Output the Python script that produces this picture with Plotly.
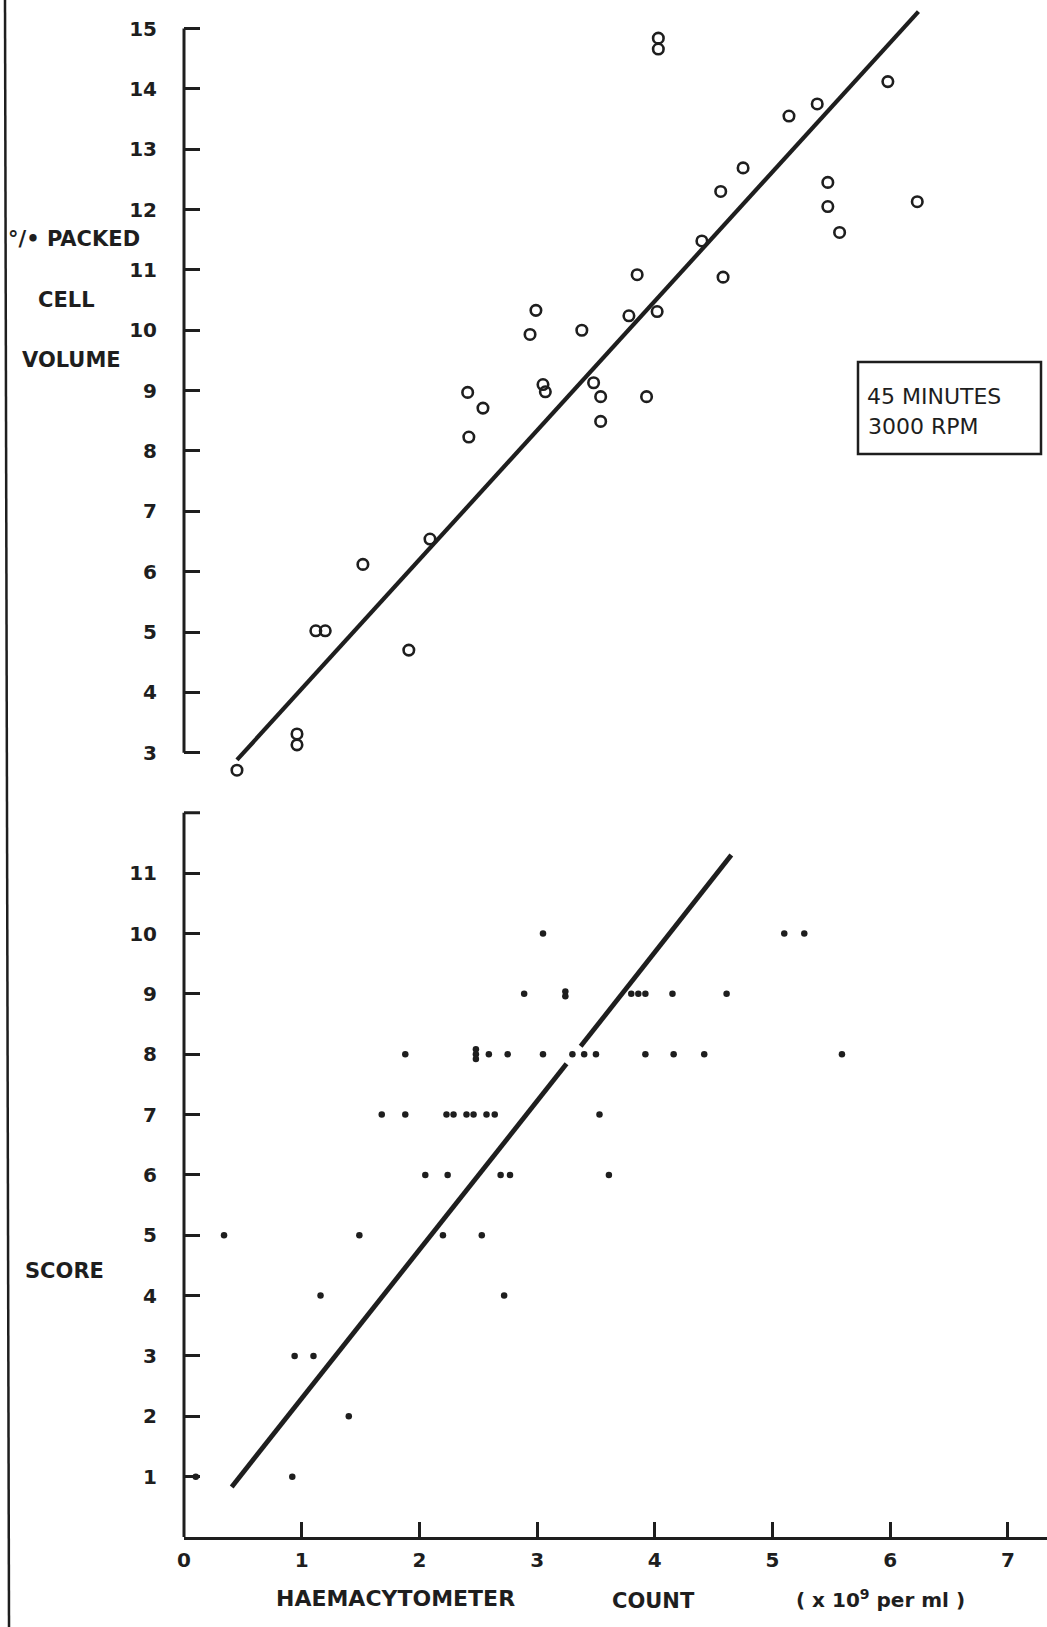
import plotly.graph_objects as go
from collections import Counter

# ---- Upper panel: % packed cell volume against haemacytometer count ----
pcv_count = [0.45, 0.96, 0.96, 1.12, 1.20, 1.52, 1.91, 2.09, 2.42, 2.41,
             2.54, 2.94, 2.99, 3.05, 3.07, 3.38, 3.48, 3.54, 3.54, 3.78,
             3.85, 3.93, 4.02, 4.03, 4.03, 4.40, 4.56, 4.58, 4.75, 5.14,
             5.38, 5.47, 5.47, 5.57, 5.98, 6.23]
pcv_value = [2.71, 3.13, 3.31, 5.02, 5.02, 6.12, 4.70, 6.54, 8.23, 8.97,
             8.71, 9.93, 10.33, 9.10, 8.98, 10.00, 9.13, 8.90, 8.49, 10.24,
             10.92, 8.90, 10.31, 14.66, 14.84, 11.48, 12.30, 10.88, 12.69, 13.55,
             13.75, 12.45, 12.05, 11.62, 14.12, 12.13]
pcv_fit_x = [0.45, 6.24]
pcv_fit_y = [2.88, 15.28]
pcv_ticks = list(range(3, 16))

# ---- Lower panel: score against haemacytometer count ----
score_count = [3.05, 5.10, 5.27,
               2.89, 3.24, 3.24, 3.80, 3.86, 3.92, 4.15, 4.61,
               1.88, 2.48, 2.48, 2.48, 2.59, 2.75, 3.05, 3.30, 3.40, 3.50, 3.92, 4.16, 4.42, 5.59,
               1.68, 1.88, 2.23, 2.29, 2.40, 2.46, 2.57, 2.64, 3.53,
               2.05, 2.24, 2.69, 2.77, 3.61,
               0.34, 1.49, 2.20, 2.53,
               1.16, 2.72,
               0.94, 1.10,
               1.40,
               0.10, 0.92]
score_value = [10, 10, 10,
               9, 9, 9, 9, 9, 9, 9, 9,
               8, 8, 8, 8, 8, 8, 8, 8, 8, 8, 8, 8, 8, 8,
               7, 7, 7, 7, 7, 7, 7, 7, 7,
               6, 6, 6, 6, 6,
               5, 5, 5, 5,
               4, 4,
               3, 3,
               2,
               1, 1]
# fitted line, drawn with a small break where it crosses the row of 8s
score_fit_x = [0.405, 3.25, None, 3.37, 4.65]
score_fit_y = [0.83, 7.84, None, 8.13, 11.30]
score_ticks = list(range(1, 12))
score_top_tick = 12

count_ticks = list(range(0, 8))

# ---- page geometry (pixels) ----
W, H = 1047, 1627
ML, MB = 184, 90
PW, PH = W - ML, H - MB
XPX = 117.7          # pixels per count unit
YPX = 60.35          # pixels per y unit (both panels)

x_range = [0, PW / XPX]
y2_top = 12.25
d2 = y2_top * YPX / PH
Y3_PX = 752.7        # pixel row of PCV = 3
top_bottom_px = 790
y1_top = 3 + Y3_PX / YPX
y1_bot = 3 - (top_bottom_px - Y3_PX) / YPX
d1 = (PH - top_bottom_px) / PH


def fx(px):
    return (px - ML) / PW


def fy(py):
    return (PH - py) / PH


# coincident dots are stacked vertically, as on the original plot
seen = Counter(zip(score_count, score_value))
idx = Counter()
score_y_plot = []
for c, v in zip(score_count, score_value):
    n = seen[(c, v)]
    i = idx[(c, v)]
    idx[(c, v)] += 1
    score_y_plot.append(v + ((n - 1) / 2 - i) * 0.08)

INK = "#1e1e1e"
FONT = "DejaVu Sans"

fig = go.Figure()

fig.add_trace(go.Scatter(
    x=pcv_count, y=pcv_value, mode="markers", xaxis="x", yaxis="y",
    marker=dict(symbol="circle-open", size=10.5, color=INK, line=dict(width=2.6, color=INK)),
    showlegend=False, hoverinfo="skip"))
fig.add_trace(go.Scatter(
    x=pcv_fit_x, y=pcv_fit_y, mode="lines", xaxis="x", yaxis="y",
    line=dict(color=INK, width=4.2), showlegend=False, hoverinfo="skip"))

fig.add_trace(go.Scatter(
    x=score_count, y=score_y_plot, mode="markers", xaxis="x2", yaxis="y2",
    marker=dict(symbol="circle", size=6.5, color=INK),
    showlegend=False, hoverinfo="skip"))
fig.add_trace(go.Scatter(
    x=score_fit_x, y=score_fit_y, mode="lines", xaxis="x2", yaxis="y2",
    line=dict(color=INK, width=4.8), connectgaps=False,
    showlegend=False, hoverinfo="skip"))

tickfont = dict(family=FONT, size=20, color=INK, weight="bold")
common_y = dict(showgrid=False, zeroline=False, showline=False, ticks="inside",
                ticklen=16, tickwidth=3, tickcolor=INK, tickfont=tickfont,
                ticklabelstandoff=26, fixedrange=True)

fig.update_layout(
    width=W, height=H,
    margin=dict(l=ML, r=0, t=0, b=MB, pad=0),
    paper_bgcolor="white", plot_bgcolor="white",
    xaxis=dict(domain=[0, 1], range=x_range, visible=False, anchor="y"),
    yaxis=dict(domain=[d1, 1], range=[y1_bot, y1_top], anchor="x",
               tickvals=pcv_ticks, ticktext=[str(v) for v in pcv_ticks], **common_y),
    xaxis2=dict(domain=[0, 1], range=x_range, anchor="y2", showgrid=False, zeroline=False,
                showline=True, linewidth=3, linecolor=INK,
                ticks="inside", ticklen=15, tickwidth=3, tickcolor=INK,
                tickvals=count_ticks, ticktext=[str(v) for v in count_ticks],
                tickfont=tickfont, ticklabelstandoff=3),
    yaxis2=dict(domain=[0, d2], range=[0, y2_top], anchor="x2",
                tickvals=score_ticks, ticktext=[str(v) for v in score_ticks], **common_y),
)

# axis spines that stop at the end ticks
fig.add_shape(type="line", xref="x domain", yref="y", x0=0, x1=0, y0=3, y1=15,
              line=dict(color=INK, width=3))
fig.add_shape(type="line", xref="x2 domain", yref="y2", x0=0, x1=0, y0=0, y1=score_top_tick,
              line=dict(color=INK, width=3))
# unlabelled closing tick at the top of the score axis
fig.add_shape(type="line", xref="paper", yref="y2", x0=0, x1=16 / PW,
              y0=score_top_tick, y1=score_top_tick, line=dict(color=INK, width=3))

# framed note
fig.add_shape(type="rect", xref="paper", yref="paper",
              x0=fx(858), x1=fx(1041), y0=fy(454), y1=fy(362),
              line=dict(color=INK, width=2.5), fillcolor="rgba(0,0,0,0)")
note_font = dict(family=FONT, size=22, color=INK)
fig.add_annotation(text="45 MINUTES", xref="paper", yref="paper", x=fx(865), y=fy(396),
                   xanchor="left", yanchor="middle", showarrow=False, font=note_font)
fig.add_annotation(text="3000 RPM", xref="paper", yref="paper", x=fx(866), y=fy(427),
                   xanchor="left", yanchor="middle", showarrow=False, font=note_font)

# page edge rule at the left
fig.add_shape(type="line", xref="paper", yref="paper",
              x0=fx(5), x1=fx(9), y0=fy(0), y1=fy(H),
              line=dict(color=INK, width=2.5))

label_font = dict(family=FONT, size=21, color=INK, weight="bold")


def label(text, px, py, size=21):
    f = dict(label_font)
    f["size"] = size
    fig.add_annotation(text=text, xref="paper", yref="paper", x=fx(px), y=fy(py),
                       xanchor="center", yanchor="middle", showarrow=False, font=f)


label("°/• PACKED", 74, 239)
label("CELL", 67, 300)
label("VOLUME", 71, 360)
label("SCORE", 65, 1271)
label("HAEMACYTOMETER", 395, 1598, size=22)
label("COUNT", 653, 1601)
label("( x 10<sup>9</sup> per ml )", 880, 1599, size=20)

fig.write_html("out.html")
